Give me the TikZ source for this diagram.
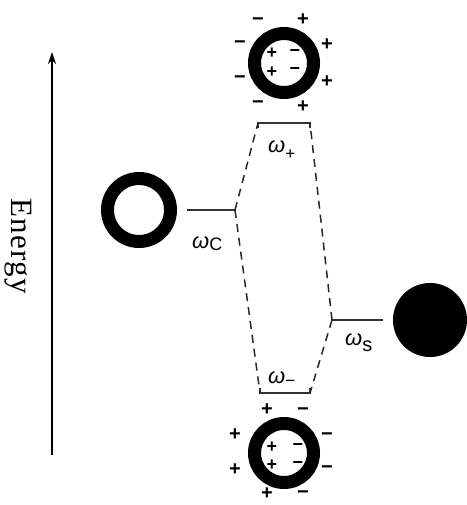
\documentclass[tikz,border=0pt]{standalone}
\usepackage{fontspec}
\newfontfamily\labfont{Liberation Sans}
\newfontfamily\axisfont[LetterSpace=4]{Liberation Serif}
\usetikzlibrary{arrows.meta}
\begin{document}
\begin{tikzpicture}[x=1pt,y=-1pt,
  ring/.style={circle,draw,line width=13pt,inner sep=0pt,minimum size=59pt},
  disk/.style={circle,fill,inner sep=0pt,minimum size=74pt},
  level/.style={line width=1.6pt,draw=black!80},
  link/.style={line width=1.5pt,draw=black!85,dash pattern=on 8pt off 6pt},
  chg/.style={inner sep=0pt,font=\labfont\bfseries\fontsize{20}{20}\selectfont},
  ichg/.style={inner sep=0pt,font=\labfont\bfseries\fontsize{18}{18}\selectfont},
  lab/.style={inner sep=0pt,anchor=base west,font=\labfont}]
\useasboundingbox (0,0) rectangle (466,505);
% energy axis
\coordinate (aB) at (52,455);
\coordinate (aT) at (52,52);
\draw[line width=1.6pt,-{Stealth[length=12pt,width=8pt]}] (aB) -- (aT);
\node[rotate=-90,inner sep=0pt,anchor=base,font=\axisfont\fontsize{31}{31}\selectfont] (energy) at (12,246) {Energy};
% rings and disk
\node[ring] (top) at (284,63) {};
\node[ring] (bot) at (284,453) {};
\node[ring,minimum size=63pt] (left) at (139,210) {};
\node[disk] (right) at (430,320) {};
% top ring charges
\foreach \p/\s in {{258,22}/−,{240,45}/−,{240,80}/−,{258,105}/−,
                  {303,20}/+,{327,45}/+,{327,82}/+,{303,107}/+}
  \node[chg] at (\p) {\s};
\foreach \p/\s in {{295,53}/−,{295,71}/−,{272,53}/+,{272,72}/+}
  \node[ichg] at (\p) {\s};
% bottom ring charges
\foreach \p/\s in {{267,410}/+,{235,435}/+,{235,470}/+,{267,494}/+,
                  {303,412}/−,{327,437}/−,{327,470}/−,{303,495}/−}
  \node[chg] at (\p) {\s};
\foreach \p/\s in {{272,447}/+,{272,465}/+,{298,447}/−,{298,465}/−}
  \node[ichg] at (\p) {\s};
% levels
\coordinate (cL) at (187,210); \coordinate (cR) at (235,210);
\coordinate (sL) at (332,320); \coordinate (sR) at (383,320);
\coordinate (pL) at (258,123); \coordinate (pR) at (310,123);
\coordinate (mL) at (260,393); \coordinate (mR) at (310,393);
\draw[level] (cL) -- (cR);
\draw[level] (sL) -- (sR);
\draw[level] ([yshift=-5pt]pL) -- (pL) -- (pR) -- ([yshift=-5pt]pR);
\draw[level] ([yshift=5pt]mL) -- (mL) -- (mR) -- ([yshift=5pt]mR);
% dashed links
\draw[link] (cR) -- (pL);
\draw[link] (cR) -- (mL);
\draw[link] (sL) -- (pR);
\draw[link] (sL) -- (mR);
% labels
\node[lab] (lc) at (192,248) {\fontsize{22}{22}\selectfont\textit{ω}\fontsize{18}{18}\selectfont\raisebox{-2pt}{C}};
\node[lab] (ls) at (345,345) {\fontsize{22}{22}\selectfont\textit{ω}\fontsize{20}{20}\selectfont\raisebox{-6pt}{s}};
\node[lab] (lp) at (268,153) {\fontsize{22}{22}\selectfont\textit{ω}\fontsize{17}{17}\selectfont\raisebox{-6pt}{+}};
\node[lab] (lm) at (268,383) {\fontsize{22}{22}\selectfont\textit{ω}\fontsize{17}{17}\selectfont\raisebox{-3pt}{−}};
\end{tikzpicture}
\end{document}
